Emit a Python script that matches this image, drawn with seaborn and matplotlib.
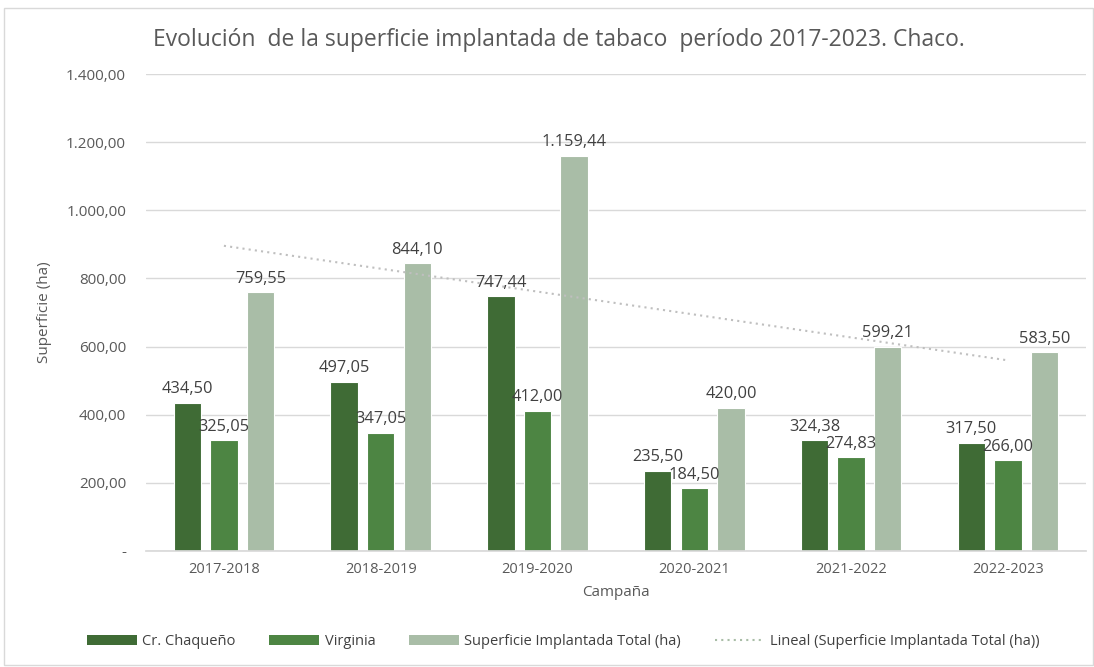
import numpy as np
import pandas as pd
import matplotlib
matplotlib.use("Agg")
import matplotlib.pyplot as plt
import seaborn as sns
from matplotlib.lines import Line2D
from matplotlib.patches import Patch, Rectangle

# --- Data ---
campanas = ["2017-2018", "2018-2019", "2019-2020", "2020-2021", "2021-2022", "2022-2023"]
chaqueno = [434.50, 497.05, 747.44, 235.50, 324.38, 317.50]
virginia = [325.05, 347.05, 412.00, 184.50, 274.83, 266.00]
total = [759.55, 844.10, 1159.44, 420.00, 599.21, 583.50]
series = ["Cr. Chaqueño", "Virginia", "Superficie Implantada Total (ha)"]
yticks = [0, 200, 400, 600, 800, 1000, 1200, 1400]

colors = ["#3F6B35", "#4D8543", "#A9BDA7"]


def fmt_es(v):
    if v == 0:
        return "-"
    s = f"{v:,.2f}"
    return s.replace(",", "X").replace(".", ",").replace("X", ".")


df = pd.DataFrame({
    "Campaña": campanas * 3,
    "Serie": [s for s in series for _ in campanas],
    "Valor": chaqueno + virginia + total,
})

sns.set_theme(style="white")
plt.rcParams["font.family"] = ["Open Sans", "DejaVu Sans"]

fig = plt.figure(figsize=(10.94, 6.67), dpi=100)
ax = fig.add_axes([0.133, 0.174, 0.860, 0.715])

sns.barplot(data=df, x="Campaña", y="Valor", hue="Serie", order=campanas,
            hue_order=series, palette=colors, width=0.7, gap=0.25,
            saturation=1, legend=False, edgecolor="white", linewidth=0.8, ax=ax)

# etiquetas de valores
for cont in ax.containers:
    ax.bar_label(cont, labels=[fmt_es(v) for v in cont.datavalues],
                 padding=4, fontsize=11.8, color="#404040")

# tendencia lineal del total
xs = np.arange(len(campanas))
m, b = np.polyfit(xs + 1, total, 1)
ax.plot(xs, m * (xs + 1) + b, linestyle=(0, (1, 2)), color="#BFBFBF", linewidth=1.5)

ax.set_ylim(0, 1400)
ax.set_yticks(yticks)
ax.set_yticklabels([fmt_es(v) for v in yticks], fontsize=11, color="#595959")
ax.set_xlim(-0.5, len(campanas) - 0.5)
ax.tick_params(axis="x", labelsize=10.5, colors="#595959", length=0, pad=8)
ax.tick_params(axis="y", length=0, pad=14)
ax.grid(axis="y", color="#D9D9D9", linewidth=1)
ax.set_axisbelow(True)
for sp in ["top", "right", "left"]:
    ax.spines[sp].set_visible(False)
ax.spines["bottom"].set_color("#D9D9D9")

ax.set_xlabel("Campaña", fontsize=11, color="#595959", labelpad=6)
ax.set_ylabel("Superficie (ha)", fontsize=11, color="#595959", labelpad=10)

fig.text(0.511, 0.94, "Evolución  de la superficie implantada de tabaco  período 2017-2023. Chaco.",
         ha="center", va="center", fontsize=16.5, color="#595959")

handles = [Patch(facecolor=c, edgecolor="none") for c in colors]
handles.append(Line2D([0], [0], linestyle=(0, (1, 2)), color="#A9BDA7", linewidth=1.5))
labels = series + ["Lineal (Superficie Implantada Total (ha))"]
fig.legend(handles, labels, loc="center", bbox_to_anchor=(0.515, 0.038), ncol=4,
           frameon=False, fontsize=10.5, handlelength=3.4, handleheight=0.7,
           handletextpad=0.4, columnspacing=2.3, labelcolor="#404040")

fig.patches.append(Rectangle((0.004, 0.003), 0.995, 0.985, transform=fig.transFigure,
                             fill=False, edgecolor="#D9D9D9", linewidth=1))

fig.savefig("out.png", dpi=100)
